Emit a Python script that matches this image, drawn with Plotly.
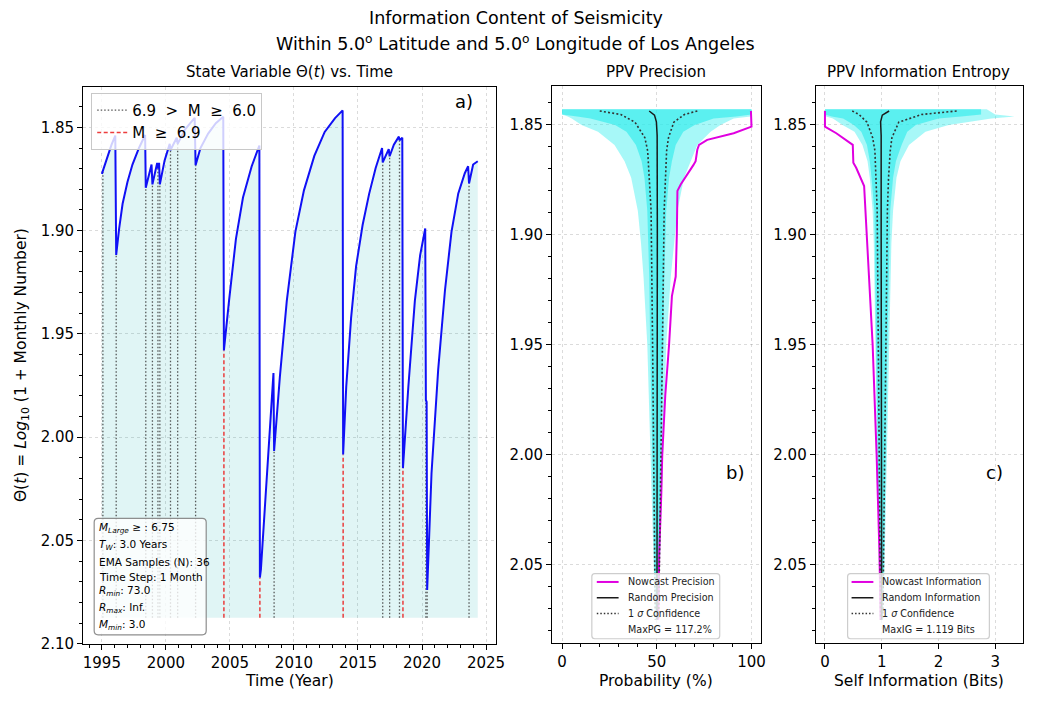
import plotly.graph_objects as go

W, H = 1040, 704

# ---------------- data ----------------
YEARS = [1995.00, 1995.40, 1995.75, 1996.05, 1996.12, 1996.35, 1996.62, 1997.00, 1997.39, 1997.90,
         1998.38, 1998.43, 1998.88, 1998.95, 1999.32, 1999.38, 1999.47, 1999.53, 1999.90, 2000.30,
         2000.36, 2000.85, 2000.92, 2001.50, 2002.25, 2002.32, 2002.70, 2003.30, 2003.90, 2004.48,
         2004.53, 2004.93, 2005.47, 2006.02, 2006.70, 2007.30, 2007.34, 2007.42, 2007.90, 2008.40,
         2008.45, 2008.90, 2009.44, 2010.11, 2010.78, 2011.59, 2012.40, 2013.21, 2013.80, 2013.84,
         2014.08, 2014.46, 2014.85, 2015.36, 2015.87, 2016.38, 2016.88, 2016.93, 2017.40, 2017.47,
         2017.80, 2018.19, 2018.24, 2018.46, 2018.51, 2018.93, 2019.44, 2019.85, 2020.25, 2020.30,
         2020.36, 2020.40, 2020.74, 2021.26, 2021.79, 2022.30, 2022.83, 2023.34, 2023.60, 2023.67,
         2023.99, 2024.35]
THETA = [1.8725, 1.8645, 1.8585, 1.8540, 1.9118, 1.8990, 1.8870, 1.8765, 1.8680, 1.8600,
         1.8537, 1.8792, 1.8680, 1.8776, 1.8672, 1.8700, 1.8672, 1.8776, 1.8660, 1.8580,
         1.8610, 1.8550, 1.8580, 1.8510, 1.8454, 1.8683, 1.8600, 1.8530, 1.8480, 1.8449,
         1.9580, 1.9340, 1.9040, 1.8840, 1.8688, 1.8588, 2.0680, 2.0640, 2.0150, 1.9690,
         2.0067, 1.9708, 1.9340, 1.9006, 1.8805, 1.8638, 1.8522, 1.8455, 1.8418, 2.0084,
         1.9758, 1.9424, 1.9173, 1.8973, 1.8822, 1.8697, 1.8600, 1.8670, 1.8605, 1.8640,
         1.8584, 1.8545, 1.8562, 1.8550, 2.0150, 1.9757, 1.9340, 1.9120, 1.8990, 1.9820,
         1.9830, 2.0740, 2.0176, 1.9674, 1.9290, 1.9006, 1.8820, 1.8722, 1.8688, 1.8772,
         1.8680, 1.8664]

MOD_YEARS = [1995.08, 1996.12, 1998.43, 1998.95, 1999.38, 1999.53, 2000.36, 2000.92, 2002.32,
             2008.45, 2016.93, 2017.47, 2018.24, 2020.30, 2020.40, 2023.67]
MOD_TOP = [1.8715, 1.9118, 1.8792, 1.8776, 1.8700, 1.8776, 1.8610, 1.8580, 1.8683,
           2.0067, 1.8670, 1.8640, 1.8562, 1.9820, 2.0740, 1.8772]
LARGE_YEARS = [2004.53, 2007.34, 2013.84, 2018.51]
LARGE_TOP = [1.9580, 2.0680, 2.0084, 2.0150]
FILL_BASE = 2.0875

PREC_THETA = [1.8439, 1.8510, 1.8540, 1.8570, 1.8593, 1.8615, 1.8667, 1.8685, 1.8772, 1.8802,
              1.8996, 1.9191, 1.9280, 1.9500, 1.9730, 2.0000, 2.0177, 2.0446, 2.0750]
PREC_NOWCAST = [99.7, 100.0, 90.6, 76.6, 72.3, 71.4, 70.5, 69.3, 62.7, 60.9,
                60.6, 60.0, 58.0, 56.5, 54.5, 52.9, 52.4, 51.3, 50.8]
RAND_THETA = [1.8439, 1.8458, 1.8488, 1.8550, 1.9000, 2.0000, 2.0750]
RAND_PREC = [46.0, 48.8, 49.8, 50.2, 50.3, 50.2, 50.1]
SIG_THETA = [1.8439, 1.8455, 1.8490, 1.8560, 1.8620, 1.8742, 1.8891, 1.9500, 2.0000, 2.0446, 2.0750]
PREC_SIG_LO = [19.9, 31.0, 38.5, 43.7, 45.2, 46.1, 47.0, 47.8, 48.3, 48.8, 49.2]
PREC_SIG_HI = [71.4, 64.6, 59.0, 56.2, 55.2, 54.5, 53.9, 53.0, 52.3, 51.6, 51.0]

BAND_THETA = [1.8431, 1.8455, 1.8464, 1.8473, 1.8503, 1.8533, 1.8593, 1.8667, 1.8742, 1.8892,
              1.9041, 1.9191, 1.9500, 2.0000, 2.0500, 2.0750]
PREC_BAND_LO = [0.0, 0.0, 3.0, 5.1, 10.3, 19.0, 27.7, 33.0, 36.5, 40.0, 41.7, 43.0, 45.0, 46.8, 48.3, 49.2]
PREC_BAND_HI = [100.0, 100.0, 99.5, 90.6, 83.6, 78.4, 71.4, 67.9, 64.4, 60.9, 59.2, 57.4, 55.0, 53.2, 51.7, 50.8]
PREC_CORE_LO = [0.0, 0.0, 8.0, 15.0, 28.0, 34.0, 39.0, 42.0, 43.5, 45.0, 45.5, 46.0, 46.5, 47.5, 48.7, 49.3]
PREC_CORE_HI = [100.0, 100.0, 92.0, 80.0, 70.0, 64.0, 60.0, 58.0, 56.5, 55.0, 54.5, 54.0, 53.5, 52.5, 51.3, 50.7]

INFO_THETA = [1.8439, 1.8510, 1.8540, 1.8584, 1.8593, 1.8674, 1.8697, 1.8780, 1.8924, 1.9191,
              1.9500, 2.0000, 2.0446, 2.0750]
INFO_NOWCAST = [0.0, 0.0, 0.20, 0.46, 0.49, 0.50, 0.55, 0.69, 0.72, 0.78, 0.84, 0.91, 0.96, 0.98]
RAND_INFO = [1.13, 1.01, 0.98, 0.99, 0.99, 0.995, 1.0]
INFO_SIG_LO = [0.48, 0.60, 0.74, 0.84, 0.88, 0.90, 0.92, 0.94, 0.96, 0.97, 0.98]
INFO_SIG_HI = [2.32, 1.70, 1.30, 1.18, 1.15, 1.12, 1.10, 1.07, 1.05, 1.03, 1.02]
INFO_BAND_LO = [0.0, 0.0, 0.02, 0.14, 0.31, 0.52, 0.66, 0.75, 0.79, 0.84, 0.86, 0.87, 0.88, 0.92, 0.95, 0.98]
INFO_BAND_HI = [2.85, 3.0, 3.34, 2.93, 2.18, 1.77, 1.48, 1.33, 1.26, 1.20, 1.17, 1.16, 1.13, 1.09, 1.05, 1.02]
INFO_CORE_LO = [0.0, 0.0, 0.12, 0.32, 0.51, 0.64, 0.74, 0.79, 0.82, 0.87, 0.88, 0.89, 0.90, 0.93, 0.96, 0.98]
INFO_CORE_HI = [2.75, 2.75, 2.4, 2.0, 1.6, 1.45, 1.35, 1.25, 1.20, 1.15, 1.13, 1.12, 1.10, 1.07, 1.04, 1.02]

YEAR_TICKS = [1995, 2000, 2005, 2010, 2015, 2020, 2025]
THETA_TICKS = [1.85, 1.90, 1.95, 2.00, 2.05, 2.10]
PROB_TICKS = [0, 50, 100]
BITS_TICKS = [0, 1, 2, 3]

INFO_LINES = ["<i>M</i><sub><i>Large</i></sub> ≥ : 6.75",
              "<i>T</i><sub><i>W</i></sub>: 3.0 Years",
              "EMA Samples (N): 36",
              "Time Step: 1 Month",
              "<i>R</i><sub><i>min</i></sub>: 73.0",
              "<i>R</i><sub><i>max</i></sub>: Inf.",
              "<i>M</i><sub><i>min</i></sub>: 3.0"]
PREC_LEGEND = ["Nowcast Precision", "Random Precision", "1 <i>σ</i> Confidence", "MaxPG = 117.2%"]
INFO_LEGEND = ["Nowcast Information", "Random Information", "1 <i>σ</i> Confidence", "MaxIG = 1.119 Bits"]

# ---------------- helpers ----------------
FONT = "DejaVu Sans"
MAGENTA = "#e000e0"
BLACK = "#1a1a1a"
DOTC = "#333333"
DOTDASH = "2px,2.2px"


def px(x):
    return x / W


def py(y):
    return 1 - y / H


def vlines(xs, tops, base):
    xx, yy = [], []
    for x, t in zip(xs, tops):
        xx += [x, x, None]
        yy += [base, t, None]
    return xx, yy


def band(lo, hi, th):
    return list(lo) + list(hi)[::-1] + [lo[0]], list(th) + list(th)[::-1] + [th[0]]


fig = go.Figure()

# ---- panel a ----
fig.add_trace(go.Scatter(x=[YEARS[0], YEARS[-1]], y=[FILL_BASE, FILL_BASE], mode="lines",
                         line=dict(width=0, color="rgba(0,0,0,0)"), showlegend=False,
                         hoverinfo="skip", xaxis="x", yaxis="y"))
fig.add_trace(go.Scatter(x=YEARS, y=THETA, mode="lines", line=dict(width=0, color="rgba(0,0,0,0)"),
                         fill="tonexty", fillcolor="rgba(0,170,170,0.12)", showlegend=False,
                         hoverinfo="skip", xaxis="x", yaxis="y"))
mx, my = vlines(MOD_YEARS, MOD_TOP, FILL_BASE)
fig.add_trace(go.Scatter(x=mx, y=my, mode="lines", name="6.9  >  M  ≥  6.0",
                         line=dict(color="rgba(60,60,60,0.85)", width=1.3, dash="1.5px,2px"),
                         legend="legend", xaxis="x", yaxis="y"))
lx, ly = vlines(LARGE_YEARS, LARGE_TOP, FILL_BASE)
fig.add_trace(go.Scatter(x=lx, y=ly, mode="lines", name="M  ≥  6.9",
                         line=dict(color="rgba(235,40,40,0.9)", width=1.5, dash="4px,2.5px"),
                         legend="legend", xaxis="x", yaxis="y"))
fig.add_trace(go.Scatter(x=YEARS, y=THETA, mode="lines", line=dict(color="#1010f5", width=2),
                         showlegend=False, xaxis="x", yaxis="y"))

# ---- panel b ----
for lo, hi, col in [(PREC_BAND_LO, PREC_BAND_HI, "rgba(60,240,240,0.45)"),
                    (PREC_CORE_LO, PREC_CORE_HI, "rgba(40,235,235,0.6)")]:
    bx, by = band(lo, hi, BAND_THETA)
    fig.add_trace(go.Scatter(x=bx, y=by, mode="lines", fill="toself", fillcolor=col,
                             line=dict(width=0, color="rgba(0,0,0,0)"), showlegend=False,
                             hoverinfo="skip", xaxis="x2", yaxis="y2"))
fig.add_trace(go.Scatter(x=PREC_NOWCAST, y=PREC_THETA, mode="lines", showlegend=False,
                         line=dict(color=MAGENTA, width=2), xaxis="x2", yaxis="y2"))
fig.add_trace(go.Scatter(x=RAND_PREC, y=RAND_THETA, mode="lines", showlegend=False,
                         line=dict(color=BLACK, width=1.5), xaxis="x2", yaxis="y2"))
for arr in (PREC_SIG_LO, PREC_SIG_HI):
    fig.add_trace(go.Scatter(x=arr, y=SIG_THETA, mode="lines", showlegend=False,
                             line=dict(color=DOTC, width=1.6, dash=DOTDASH), xaxis="x2", yaxis="y2"))

# ---- panel c ----
for lo, hi, col in [(INFO_BAND_LO, INFO_BAND_HI, "rgba(60,240,240,0.45)"),
                    (INFO_CORE_LO, INFO_CORE_HI, "rgba(40,235,235,0.6)")]:
    ix, iy = band(lo, hi, BAND_THETA)
    fig.add_trace(go.Scatter(x=ix, y=iy, mode="lines", fill="toself", fillcolor=col,
                             line=dict(width=0, color="rgba(0,0,0,0)"), showlegend=False,
                             hoverinfo="skip", xaxis="x3", yaxis="y3"))
fig.add_trace(go.Scatter(x=INFO_NOWCAST, y=INFO_THETA, mode="lines", showlegend=False,
                         line=dict(color=MAGENTA, width=2), xaxis="x3", yaxis="y3"))
fig.add_trace(go.Scatter(x=RAND_INFO, y=RAND_THETA, mode="lines", showlegend=False,
                         line=dict(color=BLACK, width=1.5), xaxis="x3", yaxis="y3"))
for arr in (INFO_SIG_LO, INFO_SIG_HI):
    fig.add_trace(go.Scatter(x=arr, y=SIG_THETA, mode="lines", showlegend=False,
                             line=dict(color=DOTC, width=1.6, dash=DOTDASH), xaxis="x3", yaxis="y3"))


# ---------------- axes ----------------
def axis(**kw):
    base = dict(showline=True, linecolor="black", linewidth=1.3, mirror=True, ticks="outside",
                ticklen=5, tickwidth=1.2, tickcolor="black", showgrid=True,
                gridcolor="rgba(0,0,0,0.14)", griddash="dot", gridwidth=1, zeroline=False,
                tickfont=dict(size=15, color="black", family=FONT))
    base.update(kw)
    return base


minor_y = dict(ticks="outside", ticklen=3, tickwidth=1, tickcolor="black", dtick=0.01, tick0=1.85)

fig.update_layout(
    width=W, height=H, margin=dict(l=0, r=0, t=0, b=0),
    plot_bgcolor="white", paper_bgcolor="white",
    font=dict(family=FONT, color="black"),
    xaxis=axis(domain=[px(84), px(500)], range=[1993.55, 2025.75], tickvals=YEAR_TICKS,
               anchor="y", minor=dict(ticks="outside", ticklen=3, tickwidth=1, tickcolor="black",
                                      dtick=1, tick0=1995)),
    yaxis=axis(domain=[py(652), py(88)], range=[2.1, 1.8304], tickvals=THETA_TICKS,
               tickformat=".2f", anchor="x", minor=minor_y),
    xaxis2=axis(domain=[px(557), px(768)], range=[-5.2, 105.2], tickvals=PROB_TICKS, anchor="y2",
                minor=dict(ticks="outside", ticklen=3, tickwidth=1, tickcolor="black",
                           dtick=10, tick0=0)),
    yaxis2=axis(domain=[py(651), py(87)], range=[2.0854, 1.8325], tickvals=THETA_TICKS[:-1],
                tickformat=".2f", anchor="x2", minor=minor_y),
    xaxis3=axis(domain=[px(823), px(1032)], range=[-0.16, 3.49], tickvals=BITS_TICKS, anchor="y3"),
    yaxis3=axis(domain=[py(651), py(87)], range=[2.0854, 1.8325], tickvals=THETA_TICKS[:-1],
                tickformat=".2f", anchor="x3", minor=minor_y),
    legend=dict(x=px(92), y=py(94), xanchor="left", yanchor="top", bgcolor="rgba(255,255,255,0.8)",
                bordercolor="rgba(200,200,200,1)", borderwidth=1, font=dict(size=15, family=FONT),
                traceorder="normal", tracegroupgap=2),
    showlegend=True,
)

# ---------------- text ----------------
ann = []
shapes = []


def text(x, y, s, size, **kw):
    d = dict(x=px(x), y=py(y), xref="paper", yref="paper", text=s, showarrow=False,
             font=dict(size=size, family=FONT, color="black"), xanchor="center", yanchor="middle")
    d.update(kw)
    ann.append(d)


def rounded_box(xa, xb, ya, yb, r, line_color, fill):
    x0, x1, y0, y1 = px(xa), px(xb), py(ya), py(yb)
    rx, ry = r / W, r / H
    path = (f"M {x0+rx},{y0} L {x1-rx},{y0} Q {x1},{y0} {x1},{y0-ry} L {x1},{y1+ry} "
            f"Q {x1},{y1} {x1-rx},{y1} L {x0+rx},{y1} Q {x0},{y1} {x0},{y1+ry} L {x0},{y0-ry} "
            f"Q {x0},{y0} {x0+rx},{y0} Z")
    shapes.append(dict(type="path", path=path, xref="paper", yref="paper",
                       line=dict(color=line_color, width=1.2), fillcolor=fill, layer="above"))


def hline(xa, xb, y, color, width, dash="solid"):
    shapes.append(dict(type="line", xref="paper", yref="paper", x0=px(xa), x1=px(xb), y0=py(y), y1=py(y),
                       line=dict(color=color, width=width, dash=dash), layer="above"))


text(520, 18, "Information Content of Seismicity", 17.5)
text(520, 44, "Within 5.0<sup>o</sup> Latitude and 5.0<sup>o</sup> Longitude of Los Angeles", 17.5)
text(292, 73, "State Variable Θ(<i>t</i>) vs. Time", 15)
text(662, 73, "PPV Precision", 15)
text(927, 73, "PPV Information Entropy", 15)
text(292, 690, "Time (Year)", 15.5)
text(662, 690, "Probability (%)", 15.5)
text(927, 690, "Self Information (Bits)", 15.5)
text(22, 370, "Θ(<i>t</i>) = <i>Log</i><sub>10</sub> (1 + Monthly Number)", 15.5, textangle=-90)
text(468, 103, "a)", 18)
text(741, 479, "b)", 18)
text(1003, 479, "c)", 18)

# info box (panel a)
rounded_box(95, 208, 525, 643, 4, "rgba(130,130,130,0.9)", "rgba(255,255,255,0.8)")
LINE_Y = [535, 552, 569, 584, 599, 616, 633]
for s, yy in zip(INFO_LINES, LINE_Y):
    text(98, yy, s, 10.5, xanchor="left")

# legends (panels b and c)
ROW_Y = [589.5, 605.5, 621.5, 637.5]
for labels, bx0, bx1, hx0, tx in [(PREC_LEGEND, 597, 726, 602, 631),
                                  (INFO_LEGEND, 855, 998, 859, 888)]:
    rounded_box(bx0, bx1, 581, 647, 3, "rgba(205,205,205,1)", "rgba(255,255,255,0.8)")
    hline(hx0, hx0 + 22, ROW_Y[0], MAGENTA, 2)
    hline(hx0, hx0 + 22, ROW_Y[1], BLACK, 1.5)
    hline(hx0, hx0 + 22, ROW_Y[2], DOTC, 1.5, "1.5px,2px")
    for s, yy in zip(labels, ROW_Y):
        text(tx, yy, s, 9.6, xanchor="left", font=dict(size=9.6, family=FONT, color="#222222"))

fig.update_layout(annotations=ann, shapes=shapes)

fig.write_html("out.html")
